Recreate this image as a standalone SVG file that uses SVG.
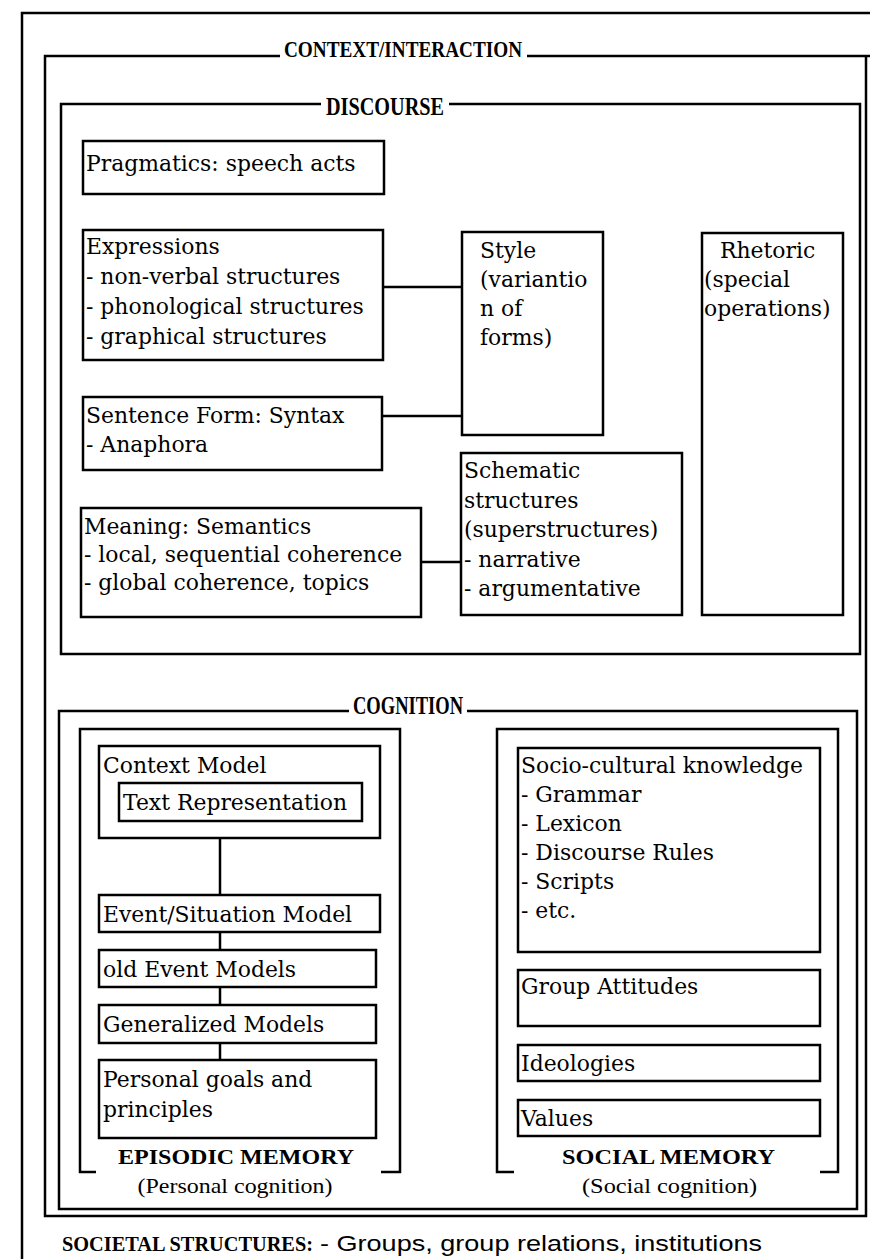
<svg xmlns="http://www.w3.org/2000/svg" width="870" height="1259" viewBox="0 0 870 1259">
<style>
.frame{fill:none;stroke:#000;stroke-width:2.5}
.box{fill:none;stroke:#000;stroke-width:2.5}
.con{fill:none;stroke:#000;stroke-width:2.5}
.t{font-family:"DejaVu Serif",serif;font-size:21.9px;fill:#000}
.h{font-family:"Liberation Serif",serif;font-weight:bold;fill:#000}
.s{font-family:"Liberation Serif",serif;fill:#000}
</style>
<rect width="870" height="1259" fill="#fff"/>
<g id="outer"><path class="frame" d="M22,1259 V13 H870"/></g>
<g id="context">
<path class="frame" d="M280,56 H45 V1216 H866 V56"/>
<path class="frame" d="M527,56 H870"/>
<text class="h" x="284" y="57" font-size="24" textLength="238" lengthAdjust="spacingAndGlyphs">CONTEXT/INTERACTION</text>
</g>
<g id="discourse">
<path class="frame" d="M321,104 H61 V654 H860 V104 H449"/>
<text class="h" x="326" y="115" font-size="26" textLength="118" lengthAdjust="spacingAndGlyphs">DISCOURSE</text>
</g>
<g id="pragmatics"><rect class="box" x="83" y="141" width="301" height="53"/><text class="t" x="86" y="171">Pragmatics: speech acts</text></g>
<g id="expressions"><rect class="box" x="83" y="230" width="300" height="130"/>
<text class="t" x="86" y="254">Expressions</text>
<text class="t" x="86" y="284">- non-verbal structures</text>
<text class="t" x="86" y="314">- phonological structures</text>
<text class="t" x="86" y="344">- graphical structures</text></g>
<g id="style"><rect class="box" x="462" y="232" width="141" height="203"/>
<text class="t" x="480" y="258">Style</text>
<text class="t" x="480" y="287">(variantio</text>
<text class="t" x="480" y="316">n of</text>
<text class="t" x="480" y="345">forms)</text></g>
<g id="rhetoric"><rect class="box" x="702" y="233" width="141" height="382"/>
<text class="t" x="720" y="258">Rhetoric</text>
<text class="t" x="704" y="287">(special</text>
<text class="t" x="704" y="316">operations)</text></g>
<g id="sentence"><rect class="box" x="83" y="397" width="299" height="73"/>
<text class="t" x="86" y="423">Sentence Form: Syntax</text>
<text class="t" x="86" y="452">- Anaphora</text></g>
<g id="meaning"><rect class="box" x="81" y="508" width="340" height="109"/>
<text class="t" x="84" y="534">Meaning: Semantics</text>
<text class="t" x="84" y="562">- local, sequential coherence</text>
<text class="t" x="84" y="590">- global coherence, topics</text></g>
<g id="schematic"><rect class="box" x="461" y="453" width="221" height="162"/>
<text class="t" x="464" y="478">Schematic</text>
<text class="t" x="464" y="507.5">structures</text>
<text class="t" x="464" y="537">(superstructures)</text>
<text class="t" x="464" y="566.5">- narrative</text>
<text class="t" x="464" y="596">- argumentative</text></g>
<g id="cognition">
<path class="frame" d="M349,711 H59 V1209 H857 V711 H467"/>
<text class="h" x="353" y="714" font-size="26" textLength="110" lengthAdjust="spacingAndGlyphs">COGNITION</text>
</g>
<g id="episodic">
<path class="frame" d="M96,1172 H80 V729 H400 V1172 H381"/>
<text class="h" x="236" y="1164" font-size="22" text-anchor="middle" textLength="236" lengthAdjust="spacingAndGlyphs">EPISODIC MEMORY</text>
<text class="s" x="235" y="1193" font-size="22" text-anchor="middle" textLength="195" lengthAdjust="spacingAndGlyphs">(Personal cognition)</text>
</g>
<g id="context-model"><rect class="box" x="99" y="746" width="281" height="92"/><text class="t" x="103" y="773">Context Model</text></g>
<g id="text-representation"><rect class="box" x="119" y="783" width="243" height="38"/><text class="t" x="123" y="810">Text Representation</text></g>
<g id="event-situation"><rect class="box" x="99" y="895" width="281" height="37"/><text class="t" x="103" y="922">Event/Situation Model</text></g>
<g id="old-event"><rect class="box" x="99" y="950" width="277" height="37"/><text class="t" x="103" y="977">old Event Models</text></g>
<g id="generalized"><rect class="box" x="99" y="1005" width="277" height="38"/><text class="t" x="103" y="1032">Generalized Models</text></g>
<g id="personal"><rect class="box" x="99" y="1060" width="277" height="78"/>
<text class="t" x="103" y="1087">Personal goals and</text>
<text class="t" x="103" y="1117">principles</text></g>
<g id="social">
<path class="frame" d="M514,1172 H497 V729 H838 V1172 H820"/>
<text class="h" x="668.5" y="1164" font-size="22" text-anchor="middle" textLength="213" lengthAdjust="spacingAndGlyphs">SOCIAL MEMORY</text>
<text class="s" x="669.5" y="1193" font-size="22" text-anchor="middle" textLength="175" lengthAdjust="spacingAndGlyphs">(Social cognition)</text>
</g>
<g id="sociocultural"><rect class="box" x="518" y="748" width="302" height="204"/>
<text class="t" x="521" y="773">Socio-cultural knowledge</text>
<text class="t" x="521" y="802">- Grammar</text>
<text class="t" x="521" y="831">- Lexicon</text>
<text class="t" x="521" y="860">- Discourse Rules</text>
<text class="t" x="521" y="889">- Scripts</text>
<text class="t" x="521" y="918">- etc.</text></g>
<g id="group-attitudes"><rect class="box" x="518" y="970" width="302" height="56"/><text class="t" x="521" y="994">Group Attitudes</text></g>
<g id="ideologies"><rect class="box" x="518" y="1045" width="302" height="36"/><text class="t" x="521" y="1071">Ideologies</text></g>
<g id="values"><rect class="box" x="518" y="1100" width="302" height="36"/><text class="t" x="521" y="1126">Values</text></g>
<g id="societal">
<text class="h" x="62" y="1251" font-size="21" textLength="251" lengthAdjust="spacingAndGlyphs">SOCIETAL STRUCTURES:</text>
<text x="320" y="1251" font-family="Liberation Sans, sans-serif" font-size="22" textLength="442" lengthAdjust="spacingAndGlyphs">- Groups, group relations, institutions</text>
</g>
<g id="connectors">
<path class="con" d="M383,287 H462"/>
<path class="con" d="M382,416 H462"/>
<path class="con" d="M421,562 H461"/>
<path class="con" d="M220,838 V895"/>
<path class="con" d="M220,932 V950"/>
<path class="con" d="M220,987 V1005"/>
<path class="con" d="M220,1043 V1060"/>
</g>
</svg>
